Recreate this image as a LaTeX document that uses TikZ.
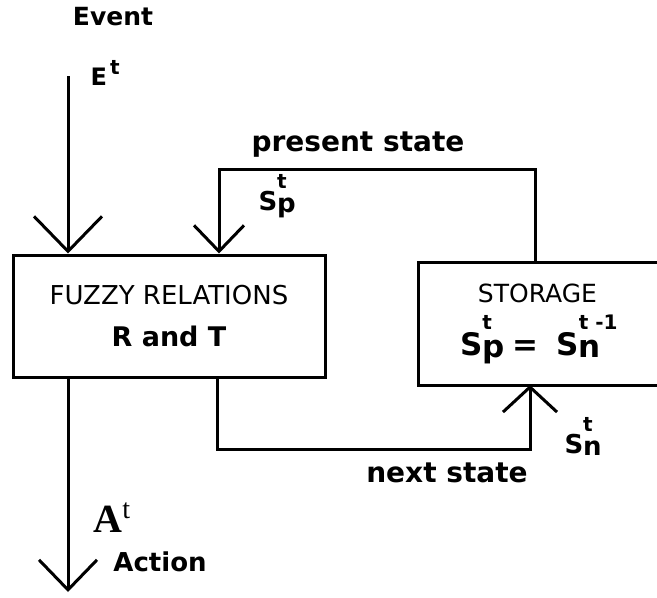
\documentclass[tikz,border=0pt]{standalone}
\usepackage{fontspec}
\setmainfont{DejaVu Sans}
\newfontfamily\serifbold{Liberation Serif}
\usetikzlibrary{arrows.meta}

% base letter with a raised small t and a lowered index
\newcommand{\tvar}[4][22pt]{#2\rlap{\raisebox{#1}{\fontsize{20}{20}\selectfont #3}}\raisebox{-2pt}{#4}}

\begin{document}
\begin{tikzpicture}[x=1pt,y=-1pt,line width=3pt,
  box/.style={draw, inner sep=0pt, align=center},
  lbl/.style={inner sep=0pt, font=\fontsize{26}{28}\selectfont\bfseries},
  vhead/.style 2 args={-{Straight Barb[length=#1,width=#2]}}]

\useasboundingbox (0,0) rectangle (657,598);

% ------------------------------------------------------------------
% The two blocks
% ------------------------------------------------------------------
\node[box, minimum width=312pt, minimum height=122pt,
  font=\fontsize{26}{42}\selectfont] (fuzzy) at (169,316)
  {FUZZY RELATIONS\\{\fontsize{27}{42}\selectfont\bfseries R and T}};

% storage is cut off by the right border, so only three sides are drawn
\node[inner sep=0pt, outer sep=0pt, minimum width=239pt, minimum height=123pt,
  align=center, font=\fontsize{25}{53}\selectfont] (storage) at (537.5,323.5)
  {STORAGE\\{\fontsize{31}{53}\selectfont\bfseries
   \tvar[26pt]{S}{t}{p}\kern8pt=\kern18pt\tvar[26pt]{S}{t -1}{n}\kern14pt}};
\draw (storage.north east) -- (storage.north west)
  -- (storage.south west) -- (storage.south east);

% ------------------------------------------------------------------
% Connectors
% ------------------------------------------------------------------
\coordinate (evtop) at (68,76);
\coordinate (psR) at (535,169);
\coordinate (psL) at (219,169);
\coordinate (nsL) at (217,449);
\coordinate (nsR) at (530,449);
\coordinate (actbot) at (68,592);

\draw[vhead={35pt}{68pt}] (evtop) -- (evtop |- fuzzy.north);
\draw[vhead={26pt}{50pt}] (psR |- storage.north) -- (psR) -- (psL)
  -- (psL |- fuzzy.north);
\draw[vhead={25pt}{54pt}] (nsL |- fuzzy.south) -- (nsL) -- (nsR)
  -- (nsR |- storage.south);
\draw[vhead={30pt}{58pt}] (actbot |- fuzzy.south) -- (actbot);

% ------------------------------------------------------------------
% Labels
% ------------------------------------------------------------------
\node[lbl, font=\fontsize{25}{27}\selectfont\bfseries] (event) at (113,17) {Event};
\node[lbl, font=\fontsize{24}{26}\selectfont\bfseries, anchor=base west]
  (evlbl) at (89,85) {\tvar[11pt]{E}{\,t}{}};
\node[lbl, font=\fontsize{28}{30}\selectfont\bfseries] (pslbl) at (358,145) {present state};
\node[lbl, anchor=base west] (sp) at (257,210) {\tvar{S}{t}{p}};
\node[lbl, font=\fontsize{28}{30}\selectfont\bfseries] (nslbl) at (447,473) {next state};
\node[lbl, anchor=base west] (sn) at (563,453) {\tvar{S}{t}{n}};
\node[inner sep=0pt, anchor=base west, font=\serifbold\fontsize{40}{42}\selectfont\bfseries]
  (actvar) at (92,532) {\tvar[14pt]{A}{\fontsize{28}{28}\selectfont\mdseries t}{}};
\node[lbl] (action) at (160,562) {Action};

\end{tikzpicture}
\end{document}
